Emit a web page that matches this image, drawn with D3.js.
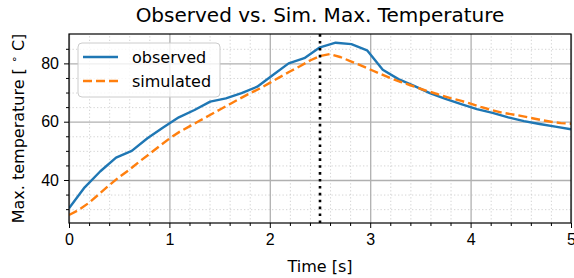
<!DOCTYPE html>
<html lang="en">
<head>
<meta charset="utf-8">
<script src="https://d3js.org/d3.v7.min.js"></script>
<style>
  body { margin: 0; background: #fff; }
  svg { display: block; font-family: "DejaVu Sans", sans-serif; }
  .tick text { font-size: 16px; fill: #000; }
</style>
<title>Observed vs. Sim. Max. Temperature</title>
</head>
<body>
<script>
// observed samples (dt = 5/32 s)
const obsTime = d3.range(33).map(i => i * 5 / 32);
const observed = [30.3, 37.5, 43.0, 47.7, 50.0, 54.3, 58.0, 61.5, 64.0, 66.9, 68.0,
  69.8, 72.0, 76.0, 80.0, 81.8, 85.5, 87.1, 86.6, 84.5, 77.8, 74.6, 72.3, 69.8,
  67.8, 66.0, 64.3, 63.0, 61.5, 60.2, 59.2, 58.3, 57.4];

// simulated samples (dt = 0.1 s)
const simTime = d3.range(51).map(i => i / 10);
const simulated = [28.0, 29.8, 32.2, 35.2, 38.2, 41.0, 43.5, 46.3, 48.9, 51.6, 54.2,
  56.5, 58.4, 60.3, 62.2, 64.1, 66.0, 67.9, 69.7, 71.4, 73.3, 75.3, 77.2, 79.0,
  81.0, 82.5, 83.2, 82.2, 80.8, 79.4, 77.9, 76.4, 75.0, 73.7, 72.5, 71.3, 70.2,
  69.1, 68.1, 67.2, 66.2, 65.1, 64.1, 63.2, 62.6, 62.0, 61.3, 60.6, 60.0, 59.5, 59.3];

const markerTime = 2.5;
const xTicks = [0, 1, 2, 3, 4, 5];
const yTicks = [40, 60, 80];
const seriesNames = ["observed", "simulated"];

const W = 574, H = 278;
const m = {left: 69, right: 3, top: 34, bottom: 55};

const svg = d3.select("body").append("svg").attr("width", W).attr("height", H);

const x = d3.scaleLinear().domain([0, 5]).range([m.left, W - m.right]);
const y = d3.scaleLinear().domain([25.25, 90.08]).range([H - m.bottom, m.top]);

const pw = W - m.left - m.right, ph = H - m.top - m.bottom;

// minor grid
const xMinor = d3.range(0, 5.001, 0.2).filter(v => Math.abs(v - Math.round(v)) > 1e-6);
const yMinor = d3.range(30, 90, 5).filter(v => v % 20 !== 0);

svg.append("g").attr("transform", `translate(0,${H - m.bottom})`)
  .call(d3.axisBottom(x).tickValues(xMinor).tickSize(-ph).tickFormat(""))
  .call(g => g.select(".domain").remove())
  .selectAll("line").attr("stroke", "#cfcfcf").attr("stroke-width", 0.9).attr("stroke-dasharray", "1.3,2.2");
svg.append("g").attr("transform", `translate(${m.left},0)`)
  .call(d3.axisLeft(y).tickValues(yMinor).tickSize(-pw).tickFormat(""))
  .call(g => g.select(".domain").remove())
  .selectAll("line").attr("stroke", "#cfcfcf").attr("stroke-width", 0.9).attr("stroke-dasharray", "1.3,2.2");

// major grid
svg.append("g").attr("transform", `translate(0,${H - m.bottom})`)
  .call(d3.axisBottom(x).tickValues(xTicks).tickSize(-ph).tickFormat(""))
  .call(g => g.select(".domain").remove())
  .selectAll("line").attr("stroke", "#b0b0b0").attr("stroke-width", 1.3);
svg.append("g").attr("transform", `translate(${m.left},0)`)
  .call(d3.axisLeft(y).tickValues(yTicks).tickSize(-pw).tickFormat(""))
  .call(g => g.select(".domain").remove())
  .selectAll("line").attr("stroke", "#b0b0b0").attr("stroke-width", 1.3);

// lines
const clip = svg.append("clipPath").attr("id", "clip").append("rect")
  .attr("x", m.left).attr("y", m.top).attr("width", pw).attr("height", ph);

const line = d3.line().x(d => x(d[0])).y(d => y(d[1]));

svg.append("path")
  .datum(obsTime.map((t, i) => [t, observed[i]]))
  .attr("clip-path", "url(#clip)")
  .attr("fill", "none").attr("stroke", "#1f77b4").attr("stroke-width", 2.4)
  .attr("stroke-linejoin", "round")
  .attr("d", line);

svg.append("path")
  .datum(simTime.map((t, i) => [t, simulated[i]]))
  .attr("clip-path", "url(#clip)")
  .attr("fill", "none").attr("stroke", "#ff7f0e").attr("stroke-width", 2.4)
  .attr("stroke-dasharray", "9,4")
  .attr("d", line);

svg.append("line")
  .attr("x1", x(markerTime)).attr("x2", x(markerTime))
  .attr("y1", y.range()[0]).attr("y2", y.range()[1])
  .attr("stroke", "#000").attr("stroke-width", 2.6)
  .attr("stroke-dasharray", "2.6,4.3");

// axes
svg.append("g").attr("transform", `translate(0,${H - m.bottom})`)
  .call(d3.axisBottom(x).tickValues(xTicks).tickSize(5).tickPadding(6).tickFormat(d3.format("d")));
svg.append("g").attr("transform", `translate(0,${H - m.bottom})`)
  .call(d3.axisBottom(x).tickValues(xMinor).tickSize(3).tickFormat(""))
  .call(g => g.select(".domain").remove());
svg.append("g").attr("transform", `translate(${m.left},0)`)
  .call(d3.axisLeft(y).tickValues(yTicks).tickSize(5).tickPadding(5).tickFormat(d3.format("d")));
svg.append("g").attr("transform", `translate(${m.left},0)`)
  .call(d3.axisLeft(y).tickValues(yMinor).tickSize(3).tickFormat(""))
  .call(g => g.select(".domain").remove());

svg.selectAll(".domain").remove();
svg.append("rect").attr("x", m.left).attr("y", m.top).attr("width", pw).attr("height", ph)
  .attr("fill", "none").attr("stroke", "#000").attr("stroke-width", 1.2);

// legend
const lg = svg.append("g").attr("transform", "translate(78,43)");
lg.append("rect").attr("width", 142).attr("height", 54).attr("rx", 4)
  .attr("fill", "#fff").attr("fill-opacity", 0.8).attr("stroke", "#cccccc");
const lgColors = ["#1f77b4", "#ff7f0e"];
seriesNames.forEach((name, i) => {
  const yy = 14 + i * 24;
  lg.append("line").attr("x1", 5).attr("x2", 40).attr("y1", yy).attr("y2", yy)
    .attr("stroke", lgColors[i]).attr("stroke-width", 2.4)
    .attr("stroke-dasharray", i === 1 ? "9,4" : null);
  lg.append("text").attr("x", 54).attr("y", yy + 6).attr("font-size", 16).text(name);
});

// title and labels
svg.append("text").attr("x", (m.left + W - m.right) / 2).attr("y", 22)
  .attr("text-anchor", "middle").attr("font-size", 20)
  .text("Observed vs. Sim. Max. Temperature");

svg.append("text").attr("x", (m.left + W - m.right) / 2).attr("y", 272)
  .attr("text-anchor", "middle").attr("font-size", 16).text("Time [s]");

const yl = svg.append("text")
  .attr("transform", `translate(23.5,${(m.top + H - m.bottom) / 2}) rotate(-90)`)
  .attr("text-anchor", "middle").attr("font-size", 16);
yl.append("tspan").text("Max. temperature [ ");
yl.append("tspan").attr("font-size", 11).attr("dy", -6).text("∘");
yl.append("tspan").attr("dy", 6).text(" C]");
</script>
</body>
</html>
